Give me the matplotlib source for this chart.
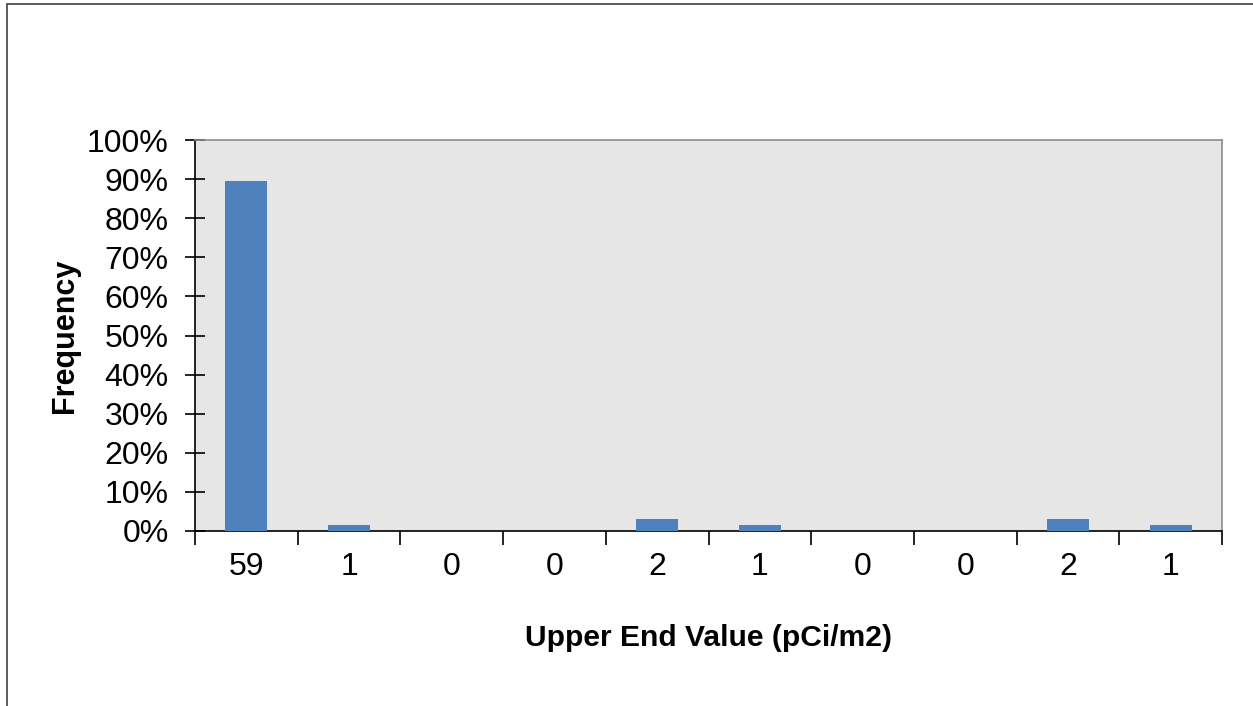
import numpy as np
import matplotlib
matplotlib.use("Agg")
import matplotlib.pyplot as plt
from matplotlib.patches import Rectangle

plt.rcParams['font.family'] = ['Liberation Sans', 'DejaVu Sans']

# données
categories = ['59', '1', '0', '0', '2', '1', '0', '0', '2', '1']
counts = [59, 1, 0, 0, 2, 1, 0, 0, 2, 1]
total = 66
frequencies = [c / total for c in counts]
yticks = [0, 0.1, 0.2, 0.3, 0.4, 0.5, 0.6, 0.7, 0.8, 0.9, 1.0]

W, H = 1253, 706
fig = plt.figure(figsize=(W / 100, H / 100), dpi=100)

# cadre extérieur (coupé à droite et en bas)
fig.patches.append(Rectangle((7 / W, -0.1), 1.2, 1.1 - 4 / H,
                             transform=fig.transFigure, fill=False,
                             edgecolor='#404040', linewidth=1.2))

ax = fig.add_axes([195 / W, 1 - 531 / H, (1222 - 195) / W, (531 - 140) / H])
ax.set_facecolor('#e6e6e6')

x = np.arange(len(categories))
ax.bar(x, frequencies, width=0.41, color='#4F81BD', zorder=3)

ax.set_xlim(-0.5, len(categories) - 0.5)
ax.set_ylim(0, 1.0)

ax.set_yticks(yticks)
ax.set_yticklabels([f"{int(round(t * 100))}%" for t in yticks])
ax.tick_params(axis='y', direction='inout', length=14, width=1.2,
               labelsize=23, pad=12)

ax.set_xticks(np.arange(-0.5, len(categories)), minor=False)
ax.set_xticklabels([])
ax.set_xticks(x, minor=True)
ax.set_xticklabels(categories, minor=True)
ax.tick_params(axis='x', which='major', direction='out', length=10, width=1.2)
ax.tick_params(axis='x', which='minor', length=0, labelsize=23, pad=15)

for s in ['left', 'bottom']:
    ax.spines[s].set_color('black')
    ax.spines[s].set_linewidth(1.2)
for s in ['top', 'right']:
    ax.spines[s].set_color('#8c8c8c')
    ax.spines[s].set_linewidth(1.2)

ax.set_xlabel('Upper End Value (pCi/m2)', fontsize=21.6, fontweight='bold',
              labelpad=30)
ax.set_ylabel('Frequency', fontsize=22, fontweight='bold', labelpad=5)

fig.savefig('out.png', dpi=100)
